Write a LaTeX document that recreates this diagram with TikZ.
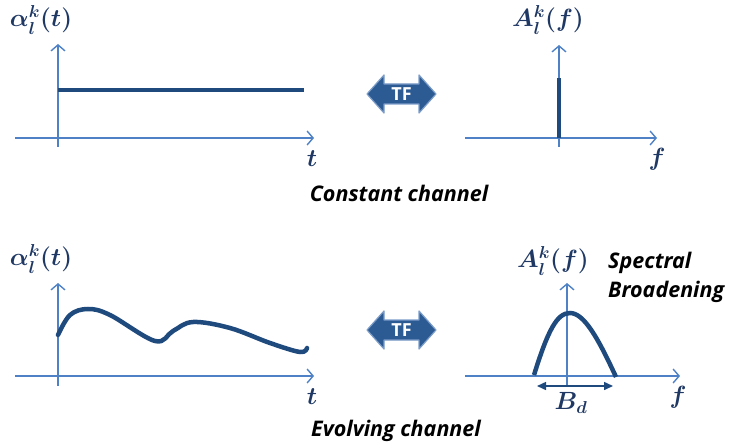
\documentclass[tikz,border=0pt]{standalone}
\usepackage{fontspec}
\usepackage{bm}
\setsansfont{Open Sans}
\usetikzlibrary{arrows.meta}
\definecolor{axisblue}{HTML}{4F81C7}
\definecolor{navy}{HTML}{1F4A7E}
\definecolor{labnavy}{HTML}{1F3864}
\definecolor{tffill}{HTML}{2C5A92}
\definecolor{tfedge}{HTML}{7B9CC8}
\tikzset{
  axis/.style={draw=axisblue, line width=1.4pt, -{Straight Barb[length=6pt,width=14pt,line width=1.4pt]}},
  sig/.style={draw=navy, line width=4pt},
  mlab/.style={text=labnavy, font=\fontsize{24}{28}\selectfont\boldmath, inner sep=0pt},
  caption/.style={text=black, font=\sffamily\bfseries\itshape\fontsize{21.5}{29}\selectfont, inner sep=0pt},
  tftext/.style={text=white, font=\sffamily\bfseries\fontsize{18}{20}\selectfont, inner sep=0pt},
  tfarrow/.style={fill=tffill, draw=tfedge, line width=1.2pt, line join=round},
}
\begin{document}
\begin{tikzpicture}[x=1pt,y=-1pt]
\useasboundingbox (0,0) rectangle (735,446);
% ---- top left
\draw[axis] (58,147) -- (58,44);
\draw[axis] (15,138) -- (314,138);
\draw[sig] (58,90) -- (304,90);
\node[mlab] (alphaTop) at (41,20) {$\alpha_l^k(t)$};
\node[mlab] (tTop) at (312,159) {$t$};
% ---- top right
\draw[axis] (559,147) -- (559,45);
\draw[axis] (465,138) -- (657,138);
\draw[sig] (559,138) -- (559,78);
\node[mlab] (Atop) at (548,20) {$A_l^k(f)$};
\node[mlab] (fTop) at (657,159) {$f$};
\node[caption, anchor=base] (const) at (399,202) {Constant channel};
% ---- TF arrows
\node[inner sep=0pt, minimum width=69pt, minimum height=38pt] (tf1) at (401.5,94) {};
\draw[tfarrow] (367,94) -- (384,75) -- (384,84) -- (419,84) -- (419,75) -- (436,94) -- (419,113) -- (419,104) -- (384,104) -- (384,113) -- cycle;
\node[tftext] at (tf1) {TF};
\node[inner sep=0pt, minimum width=69pt, minimum height=38pt] (tf2) at (401.5,330) {};
\draw[tfarrow] (367,330) -- (384,311) -- (384,320) -- (419,320) -- (419,311) -- (436,330) -- (419,349) -- (419,340) -- (384,340) -- (384,349) -- cycle;
\node[tftext] at (tf2) {TF};
% ---- bottom left
\draw[axis] (58,386) -- (58,283);
\draw[axis] (15,376) -- (314,376);
\draw[draw=navy, line width=4.5pt, line cap=round] plot[smooth, tension=0.6] coordinates {(58,335) (70,315) (88,309) (110,315) (155,341) (173,331) (193,322) (230,328) (270,343) (300,352) (307,348)};
\node[mlab] (alphaBot) at (41,259) {$\alpha_l^k(t)$};
\node[mlab] (tBot) at (312,397) {$t$};
% ---- bottom right
\draw[axis] (567,386) -- (567,283);
\draw[axis] (465,376) -- (680,376);
\draw[draw=navy, line width=4.5pt] (534,375) .. controls (548,330) and (557,313) .. (570,313) .. controls (584,313) and (598,338) .. (616,377);
\node[mlab] (Abot) at (553,261) {$A_l^k(f)$};
\node[mlab] (fBot) at (678,397) {$f$};
\coordinate (bdL) at (537,386);
\coordinate (bdR) at (613,386);
\draw[navy, line width=1.5pt, {Triangle[length=9pt,width=8pt]}-{Triangle[length=9pt,width=8pt]}] (bdL) -- (bdR);
\node[mlab] (Bd) at (571,403) {$B_d$};
\node[caption, align=left, anchor=base west] (spec) at (608,297) {Spectral\\Broadening};
\node[caption, anchor=base] (evol) at (396,436) {Evolving channel};
\end{tikzpicture}
\end{document}
